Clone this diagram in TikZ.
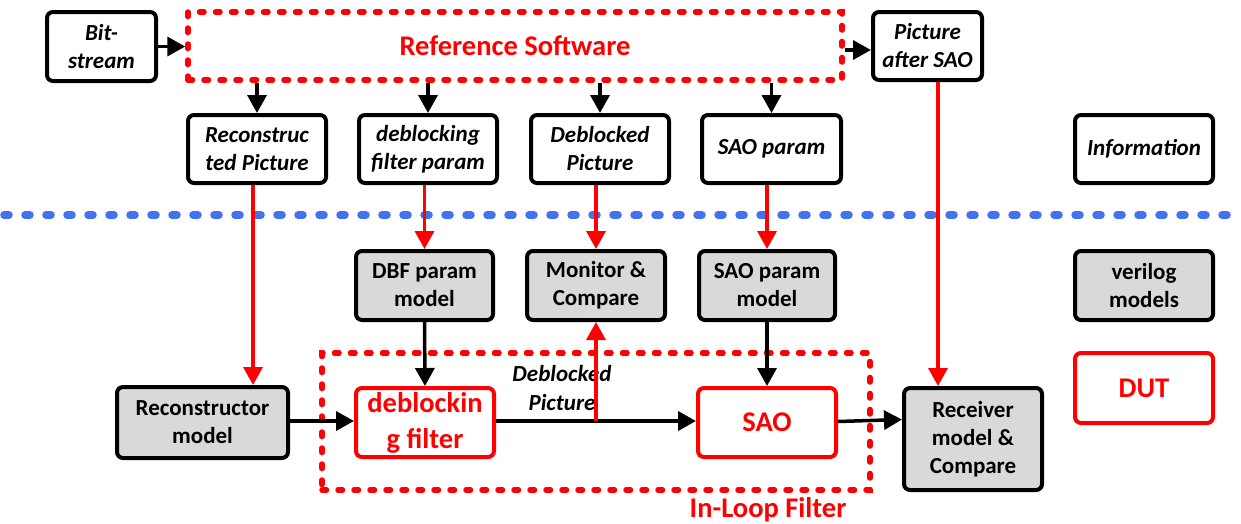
\documentclass[tikz,border=0pt]{standalone}
\usepackage{fontspec}
\setmainfont{Carlito}
\usetikzlibrary{arrows.meta}
\definecolor{dotblue}{RGB}{68,114,238}
\definecolor{boxgray}{RGB}{217,217,217}
\begin{document}
\begin{tikzpicture}[x=1pt,y=1pt,
  box/.style={draw, line width=4pt, rounded corners=6pt, align=center, inner sep=0pt,
    font=\fontsize{23}{28}\selectfont\bfseries\itshape},
  model/.style={box, fill=boxgray, font=\fontsize{23}{28}\selectfont\bfseries},
  dutbox/.style={box, draw=red, text=red, font=\fontsize{28.5}{36}\selectfont\bfseries},
  reddash/.style={draw=red, line width=5.5pt, line cap=round, dash pattern=on 4.5pt off 11.5pt},
  arr/.style={-{Triangle[length=18pt,width=19pt]}, line width=3.5pt},
  rarr/.style={arr, draw=red},
  bigred/.style={text=red, font=\fontsize{28.5}{36}\selectfont\bfseries}
]
\useasboundingbox (0,0) rectangle (1241,-523);

% top row
\node[box, minimum width=109, minimum height=69] (bits) at (101.5,-46.5) {Bit-\\stream};
\node[reddash, minimum width=654, minimum height=68, inner sep=0pt] (ref) at (515,-46) {};
\node[bigred] (reftext) at (515,-46) {Reference Software};
\node[box, minimum width=109, minimum height=68] (pas) at (927.5,-46) {Picture\\after SAO};

% second row
\node[box, minimum width=138, minimum height=68] (recpic) at (257,-149) {Reconstruc\\ted Picture};
\node[box, minimum width=138, minimum height=68] (dfp) at (428,-149) {deblocking\\filter param};
\node[box, minimum width=138, minimum height=68] (dbp) at (600,-149) {Deblocked\\Picture};
\node[box, minimum width=139, minimum height=68] (saop) at (771.5,-149) {SAO param};
\node[box, minimum width=138, minimum height=68] (info) at (1144,-149) {Information};

% separator
\coordinate (sepL) at (4,-215);
\coordinate (sepR) at (1241,-215);
\draw[dotblue, line width=7.5pt, line cap=round, dash pattern=on 5pt off 16pt] (sepL) -- (sepR);

% third row
\node[model, minimum width=137, minimum height=69] (dbfm) at (424.5,-285.5) {DBF param\\model};
\node[model, minimum width=138, minimum height=69] (mon) at (596,-285.5) {Monitor \&\\Compare};
\node[model, minimum width=136, minimum height=69] (saom) at (767,-285.5) {SAO param\\model};
\node[model, minimum width=138, minimum height=69] (veri) at (1144,-285.5) {verilog\\models};

% in-loop filter
\node[reddash, minimum width=548, minimum height=137, inner sep=0pt] (loop) at (596,-421.5) {};
\node[bigred] (looptext) at (768,-510) {In-Loop Filter};

% bottom row
\node[model, minimum width=171, minimum height=71] (recm) at (202.5,-422.5) {Reconstructor\\model};
\node[dutbox, minimum width=138, minimum height=69] (dbf) at (425,-422.5) {deblockin\\g filter};
\node[dutbox, minimum width=138, minimum height=69] (sao) at (767,-422.5) {SAO};
\node[model, minimum width=138, minimum height=102] (recv) at (973,-439) {Receiver\\model \&\\Compare};
\node[dutbox, minimum width=138, minimum height=70] (dut) at (1144,-388) {DUT};

\node[align=center, inner sep=0pt, font=\fontsize{23}{29}\selectfont\bfseries\itshape] (dblabel) at (562,-388) {Deblocked\\Picture};

% connectors top
\draw[arr] (bits) -- (ref.west |- bits);
\draw[arr] ([yshift=-4]ref.east) -- ([yshift=-4]pas.west);
\draw[arr] (recpic.north |- ref.south) -- (recpic.north);
\draw[arr] (dfp.north |- ref.south) -- (dfp.north);
\draw[arr] (dbp.north |- ref.south) -- (dbp.north);
\draw[arr] (saop.north |- ref.south) -- (saop.north);

% red connectors
\draw[rarr] ([xshift=-4]recpic.south) -- ([xshift=-4]recpic.south |- recm.north);
\draw[rarr] (dbfm.north |- dfp.south) -- (dbfm.north);
\draw[rarr] (mon.north |- dbp.south) -- (mon.north);
\draw[rarr] (saom.north |- saop.south) -- (saom.north);
\draw[rarr] ([xshift=10.5]pas.south) -- ([xshift=10.5]pas.south |- recv.north);

% model to DUT
\draw[arr] (dbfm.south) -- (dbf.north);
\draw[arr] (saom.south) -- (sao.north);

% data path
\draw[arr] ([yshift=1.5]recm.east) -- ([yshift=1.5]dbf.west);
\coordinate (tap) at (mon.south |- 0,-421);
\draw[arr] ([yshift=1.5]dbf.east) -- ([yshift=1.5]sao.west);
\draw[rarr] (tap) -- (mon.south);
\draw[arr] ([yshift=1]sao.east) -- ([yshift=19.5]recv.west);
\end{tikzpicture}
\end{document}
